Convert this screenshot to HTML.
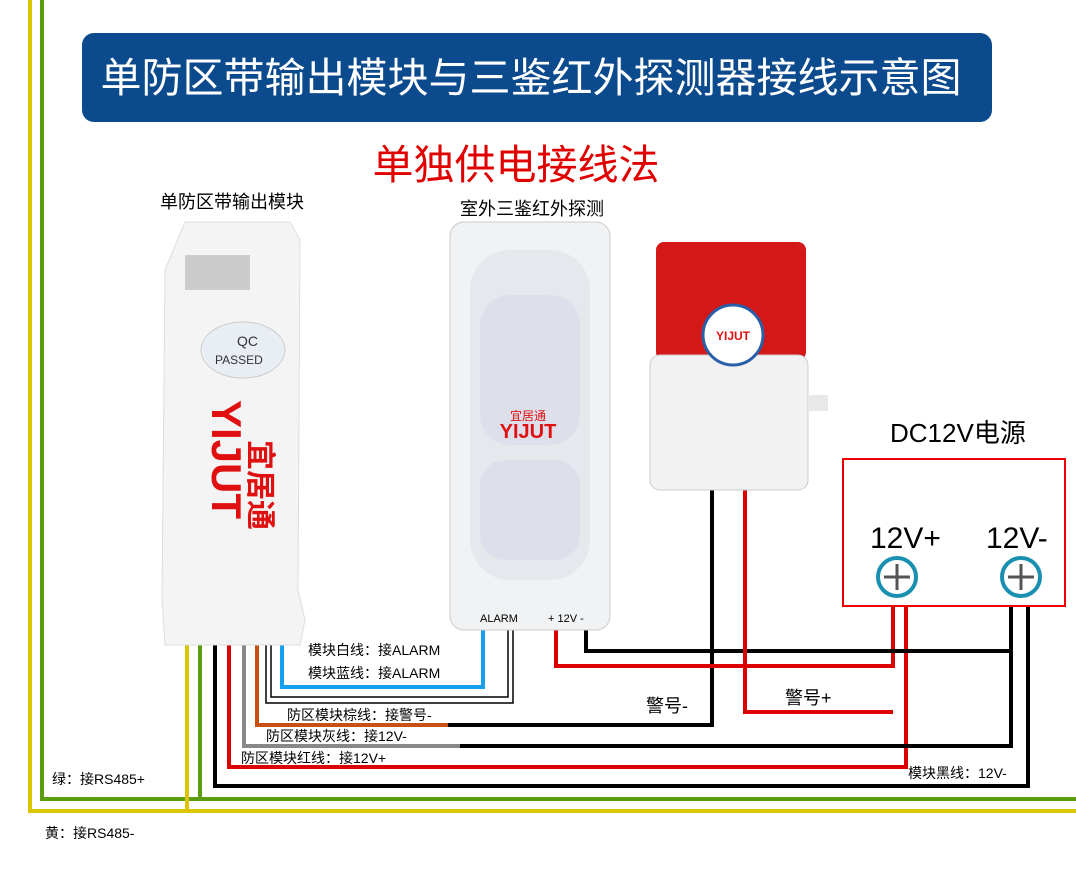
<!DOCTYPE html>
<html><head><meta charset="utf-8"><style>
body{margin:0;background:#fff;}
svg text{font-family:"Liberation Sans","Noto Sans CJK SC",sans-serif;}
</style></head><body>
<svg width="1076" height="865" xmlns="http://www.w3.org/2000/svg">
<rect width="1076" height="865" fill="#fff"/>
<polyline points="30,0 30,811 1076,811" fill="none" stroke="#dcc400" stroke-width="4"/>
<polyline points="42,0 42,799 1076,799" fill="none" stroke="#5a9e10" stroke-width="4"/>
<rect x="82" y="33" width="910" height="89" rx="12" fill="#0b4a8c"/>
<text x="531" y="92" font-size="41" fill="#fff" text-anchor="middle">单防区带输出模块与三鉴红外探测器接线示意图</text>
<text x="516" y="179" font-size="41" fill="#e00000" text-anchor="middle">单独供电接线法</text>
<text x="232" y="208" font-size="18" fill="#000" text-anchor="middle">单防区带输出模块</text>
<text x="532" y="215" font-size="18" fill="#000" text-anchor="middle">室外三鉴红外探测</text>
<polyline points="187,640 187,811" fill="none" stroke="#dcc400" stroke-width="4"/>
<polyline points="200,640 200,799" fill="none" stroke="#5a9e10" stroke-width="4"/>
<polyline points="215,640 215,786 1028,786 1028,607" fill="none" stroke="#000" stroke-width="4"/>
<polyline points="229,640 229,767 906,767 906,607" fill="none" stroke="#d00" stroke-width="4"/>
<polyline points="244,640 244,746 460,746" fill="none" stroke="#888" stroke-width="4"/>
<polyline points="460,746 1011,746 1011,607" fill="none" stroke="#000" stroke-width="4"/>
<polyline points="257,640 257,725 448,725" fill="none" stroke="#c85010" stroke-width="4"/>
<polyline points="448,725 712,725 712,490" fill="none" stroke="#000" stroke-width="4"/>
<polyline points="266,640 266,703 513,703 513,628" fill="none" stroke="#000" stroke-width="1.5"/>
<polyline points="271,640 271,697 508,697 508,628" fill="none" stroke="#000" stroke-width="1.5"/>
<polyline points="282,640 282,687 483,687 483,628" fill="none" stroke="#18a0f0" stroke-width="4"/>
<polyline points="556,628 556,666 893,666 893,607" fill="none" stroke="#d00" stroke-width="4"/>
<polyline points="586,628 586,651 1011,651" fill="none" stroke="#000" stroke-width="4"/>
<polyline points="745,490 745,712 893,712" fill="none" stroke="#d00" stroke-width="4"/>
<path d="M185,222 L290,222 L300,240 L298,590 L305,620 L300,645 L165,645 L162,600 L165,270 Z" fill="#f4f4f4" stroke="#ddd"/>
<rect x="185" y="255" width="65" height="35" fill="#ccc"/>
<ellipse cx="243" cy="350" rx="42" ry="28" fill="#e8eef4" stroke="#ccc"/>
<text x="237" y="346" font-size="14" fill="#333">QC</text>
<text x="215" y="364" font-size="12" fill="#333">PASSED</text>
<text x="0" y="0" font-size="42" font-weight="bold" fill="#e01010" transform="translate(212,400) rotate(90)">YIJUT</text>
<text x="0" y="0" font-size="30" font-weight="bold" fill="#e01010" transform="translate(250,440) rotate(90)">宜居通</text>
<rect x="450" y="222" width="160" height="408" rx="14" fill="#f0f2f4" stroke="#ccc"/>
<rect x="470" y="250" width="120" height="330" rx="40" fill="#e6e8ee"/>
<rect x="480" y="295" width="100" height="150" rx="30" fill="#dde0ea"/>
<rect x="480" y="460" width="100" height="100" rx="25" fill="#dde0ea"/>
<text x="528" y="438" font-size="20" font-weight="bold" fill="#e01010" text-anchor="middle">YIJUT</text>
<text x="528" y="420" font-size="12" fill="#e01010" text-anchor="middle">宜居通</text>
<text x="480" y="622" font-size="11" fill="#000">ALARM</text>
<text x="548" y="622" font-size="11" fill="#000">+ 12V -</text>
<rect x="656" y="242" width="150" height="118" rx="8" fill="#d41818"/>
<rect x="650" y="355" width="158" height="135" rx="10" fill="#f2f2f2" stroke="#ccc"/>
<circle cx="733" cy="335" r="30" fill="#fff" stroke="#2a5ea8" stroke-width="3"/>
<text x="733" y="340" font-size="12" font-weight="bold" fill="#e01010" text-anchor="middle">YIJUT</text>
<rect x="808" y="395" width="20" height="16" fill="#e8e8e8"/>
<text x="890" y="442" font-size="26" fill="#000">DC12V电源</text>
<rect x="843" y="459" width="222" height="147" fill="#fff" stroke="#e00" stroke-width="2"/>
<text x="870" y="548" font-size="30" fill="#000">12V+</text>
<text x="986" y="548" font-size="30" fill="#000">12V-</text>
<g stroke="#555" stroke-width="3"><circle cx="897" cy="577" r="19" fill="#fff" stroke="#1a90b0" stroke-width="4"/><line x1="884" y1="577" x2="910" y2="577"/><line x1="897" y1="564" x2="897" y2="590"/>
<circle cx="1021" cy="577" r="19" fill="#fff" stroke="#1a90b0" stroke-width="4"/><line x1="1008" y1="577" x2="1034" y2="577"/><line x1="1021" y1="564" x2="1021" y2="590"/></g>
<g font-size="14" fill="#000">
<text x="308" y="655">模块白线：接ALARM</text>
<text x="308" y="678">模块蓝线：接ALARM</text>
<text x="287" y="720">防区模块棕线：接警号-</text>
<text x="266" y="741">防区模块灰线：接12V-</text>
<text x="241" y="763">防区模块红线：接12V+</text>
<text x="52" y="784">绿：接RS485+</text>
<text x="45" y="838">黄：接RS485-</text>
<text x="908" y="778">模块黑线：12V-</text>
</g>
<text x="646" y="712" font-size="18" fill="#000">警号-</text>
<text x="785" y="704" font-size="18" fill="#000">警号+</text>
</svg>
</body></html>
